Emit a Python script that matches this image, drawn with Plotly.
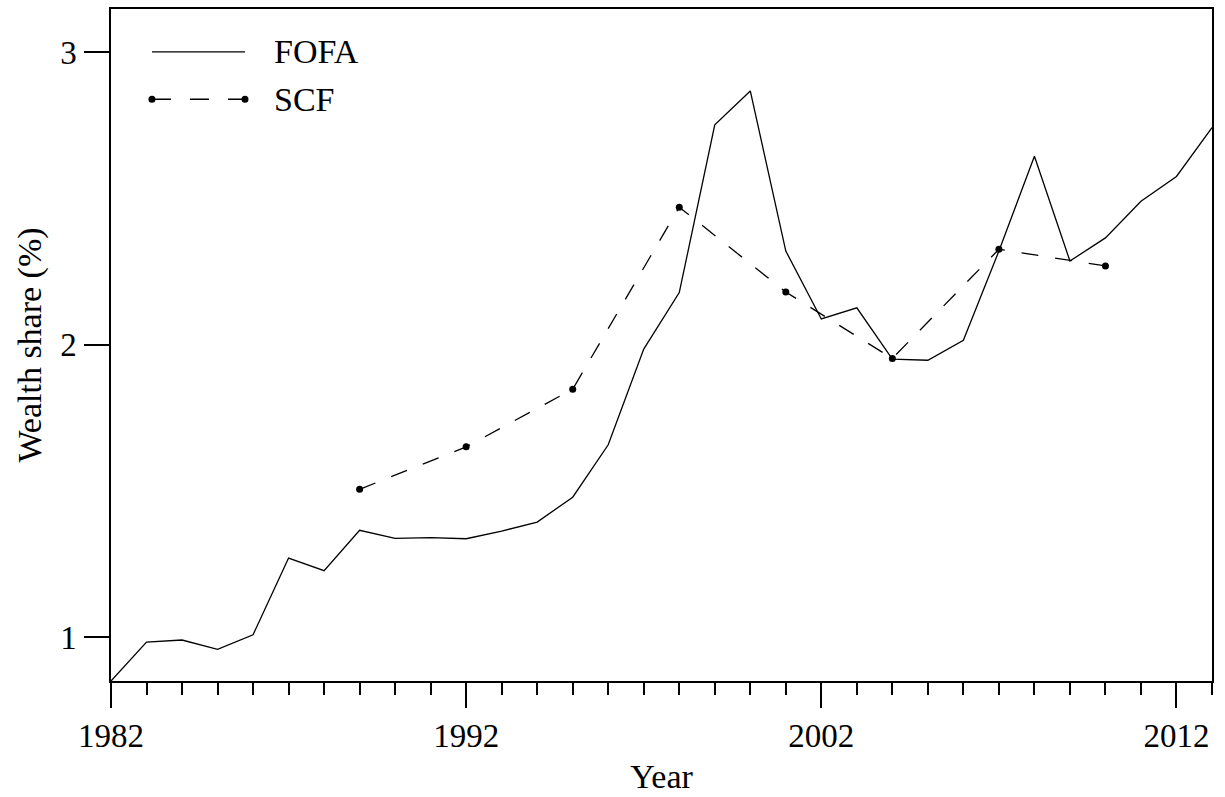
import plotly.graph_objects as go

# FOFA annual series, 1982-2013
fofa_years = list(range(1982, 2014))
fofa_share = [0.851, 0.984, 0.991, 0.959, 1.009, 1.271, 1.228, 1.366, 1.338, 1.341,
              1.337, 1.363, 1.394, 1.479, 1.658, 1.985, 2.178, 2.751, 2.867, 2.320,
              2.088, 2.126, 1.951, 1.947, 2.015, 2.320, 2.644, 2.286, 2.365, 2.490,
              2.575, 2.742]

# SCF triennial survey waves
scf_years = [1989, 1992, 1995, 1998, 2001, 2004, 2007, 2010]
scf_share = [1.506, 1.651, 1.848, 2.470, 2.180, 1.953, 2.326, 2.269]

major_ticks = [1982, 1992, 2002, 2012]
y_ticks = [1, 2, 3]

FONT = "Liberation Serif, Times New Roman, serif"
FS = 34
TICK_FS = 33
INK = "black"

fig = go.Figure()
fig.add_trace(go.Scatter(
    x=fofa_years, y=fofa_share, mode="lines", name="FOFA",
    line=dict(color=INK, width=1.3), showlegend=False, cliponaxis=False))
fig.add_trace(go.Scatter(
    x=scf_years, y=scf_share, mode="lines+markers", name="SCF",
    line=dict(color=INK, width=1.3, dash="17px,17px"),
    marker=dict(color=INK, size=7), showlegend=False))

# hand-placed legend (long line samples)
L0, L1, LT = 0.0372, 0.1217, 0.1462
Y1, Y2 = 0.9362, 0.8657
shapes = [
    dict(type="line", xref="paper", yref="paper", x0=L0, x1=L1, y0=Y1, y1=Y1,
         line=dict(color=INK, width=1.3)),
    dict(type="line", xref="paper", yref="paper", x0=L0, x1=L1, y0=Y2, y1=Y2,
         line=dict(color=INK, width=1.3, dash="19px,19px")),
]
for xa in (L0, L1):
    shapes.append(dict(type="circle", xref="paper", yref="paper",
                       xsizemode="pixel", ysizemode="pixel",
                       xanchor=xa, yanchor=Y2, x0=-3.5, x1=3.5, y0=-3.5, y1=3.5,
                       fillcolor=INK, line=dict(color=INK, width=0)))
annotations = [
    dict(text="FOFA", xref="paper", yref="paper", x=LT, y=Y1, xanchor="left",
         yanchor="middle", showarrow=False, font=dict(family=FONT, size=FS, color=INK)),
    dict(text="SCF", xref="paper", yref="paper", x=LT, y=Y2, xanchor="left",
         yanchor="middle", showarrow=False, font=dict(family=FONT, size=FS, color=INK)),
]

fig.update_layout(
    width=1225, height=797,
    margin=dict(l=111, r=13, t=7, b=116),
    paper_bgcolor="white", plot_bgcolor="white",
    font=dict(family=FONT, size=FS, color=INK),
    shapes=shapes, annotations=annotations,
    showlegend=False,
)
fig.update_xaxes(
    range=[1982, 2013], tickmode="array", tickvals=major_ticks,
    ticktext=[str(v) for v in major_ticks],
    tickfont=dict(family=FONT, size=TICK_FS, color=INK),
    ticks="outside", ticklen=25, tickwidth=1.5, tickcolor=INK,
    ticklabelstandoff=0,
    minor=dict(dtick=1, tick0=1982, ticks="outside", ticklen=12,
               tickwidth=1.5, tickcolor=INK, showgrid=False),
    showline=True, linecolor=INK, linewidth=1.5, mirror=True,
    showgrid=False, zeroline=False,
    title=dict(text="Year", font=dict(family=FONT, size=FS, color=INK), standoff=11),
)
fig.update_yaxes(
    range=[0.851, 3.147], tickmode="array", tickvals=y_ticks,
    ticktext=[str(v) for v in y_ticks],
    tickfont=dict(family=FONT, size=TICK_FS, color=INK),
    ticks="outside", ticklen=25, tickwidth=1.5, tickcolor=INK,
    ticklabelstandoff=1,
    showline=True, linecolor=INK, linewidth=1.5, mirror=True,
    showgrid=False, zeroline=False,
    title=dict(text="Wealth share (%)", font=dict(family=FONT, size=FS, color=INK),
               standoff=8),
)

fig.write_html("out.html")
